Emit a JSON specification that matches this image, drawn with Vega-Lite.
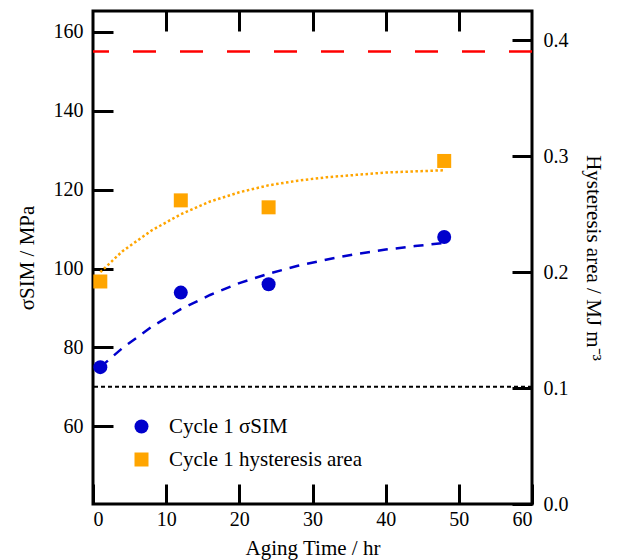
{
  "$schema": "https://vega.github.io/schema/vega-lite/v6.json",
  "width": 439,
  "height": 493,
  "autosize": {"type": "none"},
  "padding": {"left": 93, "top": 11, "right": 85, "bottom": 56},
  "config": {
    "font": "Liberation Serif",
    "view": {"stroke": "black", "strokeWidth": 3},
    "axis": {
      "labelFont": "Liberation Serif",
      "labelFontSize": 20,
      "labelColor": "black",
      "titleFont": "Liberation Serif",
      "titleFontSize": 21,
      "titleFontWeight": "normal",
      "titleColor": "black",
      "grid": false,
      "domain": false,
      "tickColor": "black",
      "tickWidth": 3,
      "tickSize": -20
    },
    "legend": {
      "orient": "none",
      "legendX": 38,
      "legendY": 405,
      "padding": 0,
      "labelFont": "Liberation Serif",
      "labelFontSize": 21,
      "labelColor": "black",
      "labelOffset": 17,
      "labelLimit": 400,
      "rowPadding": 11,
      "symbolSize": 196,
      "symbolStrokeWidth": 0
    }
  },
  "datasets": {
    "sigma": [
      {"t": 1, "v": 75.0, "series": "Cycle 1 σSIM"},
      {"t": 12, "v": 93.9, "series": "Cycle 1 σSIM"},
      {"t": 24, "v": 96.0, "series": "Cycle 1 σSIM"},
      {"t": 48, "v": 108.0, "series": "Cycle 1 σSIM"}
    ],
    "hyst": [
      {"t": 1, "h": 0.192, "series": "Cycle 1 hysteresis area"},
      {"t": 12, "h": 0.262, "series": "Cycle 1 hysteresis area"},
      {"t": 24, "h": 0.256, "series": "Cycle 1 hysteresis area"},
      {"t": 48, "h": 0.296, "series": "Cycle 1 hysteresis area"}
    ],
    "sigmaFit": [
      {"t": 1, "v": 75.0}, {"t": 4, "v": 79.8}, {"t": 8, "v": 85.2}, {"t": 12, "v": 89.7},
      {"t": 16, "v": 93.3}, {"t": 20, "v": 96.3}, {"t": 24, "v": 98.7}, {"t": 28, "v": 100.7},
      {"t": 32, "v": 102.3}, {"t": 36, "v": 103.7}, {"t": 40, "v": 104.8}, {"t": 44, "v": 105.7},
      {"t": 48, "v": 106.5}
    ],
    "hystFit": [
      {"t": 1, "h": 0.200}, {"t": 4, "h": 0.218}, {"t": 8, "h": 0.236}, {"t": 12, "h": 0.250},
      {"t": 16, "h": 0.261}, {"t": 20, "h": 0.269}, {"t": 24, "h": 0.275}, {"t": 28, "h": 0.279},
      {"t": 32, "h": 0.282}, {"t": 36, "h": 0.284}, {"t": 40, "h": 0.286}, {"t": 44, "h": 0.287},
      {"t": 48, "h": 0.288}
    ],
    "upper": [{"v": 155}],
    "lower": [{"v": 70}]
  },
  "layer": [
    {
      "encoding": {
        "x": {
          "field": "t", "type": "quantitative",
          "scale": {"domain": [0, 60], "nice": false},
          "axis": {"orient": "bottom", "values": [0, 10, 20, 30, 40, 50, 60], "title": "Aging Time / hr", "labelPadding": 25, "titlePadding": 8}
        }
      },
      "layer": [
        {
          "data": {"name": "upper"},
          "mark": {"type": "rule", "color": "#FF0000", "strokeWidth": 2.5, "strokeDash": [23, 24]},
          "encoding": {
            "x": null,
            "y": {"field": "v", "type": "quantitative"}
          }
        },
        {
          "data": {"name": "lower"},
          "mark": {"type": "rule", "color": "black", "strokeWidth": 2, "strokeDash": [4, 3]},
          "encoding": {
            "x": null,
            "y": {"field": "v", "type": "quantitative"}
          }
        },
        {
          "data": {"name": "sigmaFit"},
          "mark": {"type": "line", "color": "#0000CC", "strokeWidth": 2.5, "strokeDash": [10, 8]},
          "encoding": {
            "y": {"field": "v", "type": "quantitative"}
          }
        },
        {
          "data": {"name": "sigma"},
          "mark": {"type": "point", "filled": true, "size": 196, "opacity": 1},
          "encoding": {
            "y": {
              "field": "v", "type": "quantitative",
              "scale": {"domain": [40.3, 165.3], "nice": false, "zero": false},
              "axis": {"orient": "left", "values": [60, 80, 100, 120, 140, 160], "title": "σSIM / MPa", "labelPadding": 30, "titlePadding": 16}
            },
            "color": {"field": "series", "type": "nominal", "title": null,
              "scale": {"domain": ["Cycle 1 σSIM", "Cycle 1 hysteresis area"], "range": ["#0000CC", "#FFA500"]}},
            "shape": {"field": "series", "type": "nominal", "title": null,
              "scale": {"domain": ["Cycle 1 σSIM", "Cycle 1 hysteresis area"], "range": ["circle", "square"]}}
          }
        }
      ]
    },
    {
      "encoding": {
        "x": {
          "field": "t", "type": "quantitative",
          "scale": {"domain": [0, 60], "nice": false},
          "axis": {"orient": "top", "values": [10, 20, 30, 40, 50], "labels": false, "title": null}
        },
        "y": {
          "field": "h", "type": "quantitative",
          "scale": {"domain": [0, 0.4254], "nice": false},
          "axis": {"orient": "right", "values": [0, 0.1, 0.2, 0.3, 0.4], "format": ".1f", "title": "Hysteresis area / MJ m⁻³", "labelPadding": 31, "titlePadding": 14}
        }
      },
      "layer": [
        {
          "data": {"name": "hystFit"},
          "mark": {"type": "line", "color": "#FFA500", "strokeWidth": 2.5, "strokeDash": [2.5, 2.5]}
        },
        {
          "data": {"name": "hyst"},
          "mark": {"type": "point", "filled": true, "size": 196, "opacity": 1},
          "encoding": {
            "color": {"field": "series", "type": "nominal", "title": null},
            "shape": {"field": "series", "type": "nominal", "title": null}
          }
        }
      ]
    }
  ],
  "resolve": {"scale": {"y": "independent"}, "axis": {"x": "independent"}}
}
